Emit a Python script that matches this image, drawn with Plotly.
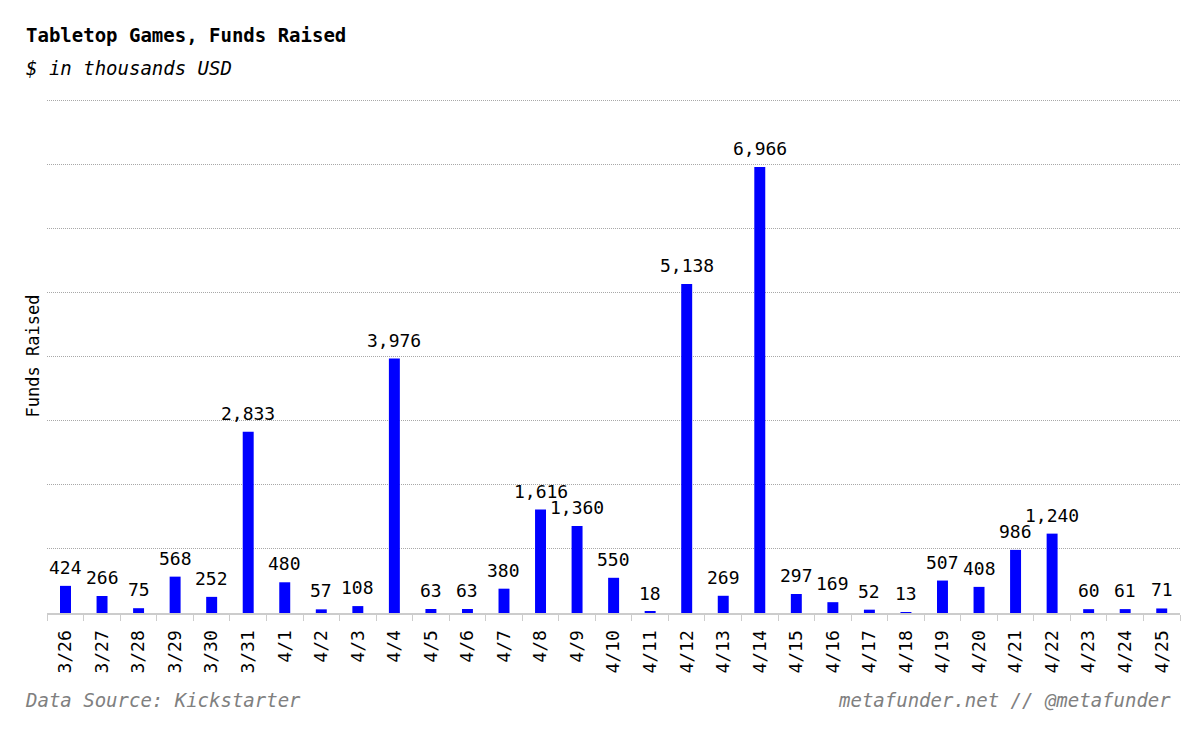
import plotly.graph_objects as go

dates = ["3/26", "3/27", "3/28", "3/29", "3/30", "3/31", "4/1", "4/2", "4/3", "4/4",
         "4/5", "4/6", "4/7", "4/8", "4/9", "4/10", "4/11", "4/12", "4/13", "4/14",
         "4/15", "4/16", "4/17", "4/18", "4/19", "4/20", "4/21", "4/22", "4/23", "4/24", "4/25"]
funds = [424, 266, 75, 568, 252, 2833, 480, 57, 108, 3976,
         63, 63, 380, 1616, 1360, 550, 18, 5138, 269, 6966,
         297, 169, 52, 13, 507, 408, 986, 1240, 60, 61, 71]

MONO = "DejaVu Sans Mono, Liberation Mono, monospace"

fig = go.Figure(go.Bar(
    x=dates, y=funds, width=0.3,
    marker=dict(color="#0000ff", line=dict(width=0)),
    cliponaxis=False,
))

value_labels = [
    dict(x=d, y=v, xref="x", yref="y", text=f"{v:,}", showarrow=False,
         xanchor="center", yanchor="bottom", yshift=6,
         font=dict(family=MONO, size=18, color="black"))
    for d, v in zip(dates, funds)
]

top_margin = 99
fig.update_layout(
    width=1200, height=733, plot_bgcolor="white", paper_bgcolor="white",
    margin=dict(l=47, r=20, t=top_margin, b=120),
    showlegend=False, bargap=0.7,
    font=dict(family=MONO, color="black"),
    xaxis=dict(type="category", tickangle=-90, tickson="boundaries", ticks="outside",
               ticklen=6, tickcolor="#cccccc", tickwidth=1, showline=True,
               linecolor="#cccccc", linewidth=2, showgrid=False,
               ticklabelstandoff=8,
               tickfont=dict(family=MONO, size=18, color="black")),
    yaxis=dict(range=[0, 8030], tick0=0, dtick=1000, showticklabels=False, showgrid=True,
               gridcolor="#a8a8a8", griddash="1px,1px", gridwidth=1, zeroline=False,
               title=dict(text="Funds Raised", standoff=2,
                          font=dict(family=MONO, size=17, color="black"))),
    annotations=value_labels + [
        dict(text="<b>Tabletop Games, Funds Raised</b>", xref="paper", yref="paper",
             x=(24 - 47) / 1133, y=1, xanchor="left", yanchor="top", showarrow=False,
             yshift=top_margin - 35 + 13,
             font=dict(family=MONO, size=19, color="black")),
        dict(text="<i>$ in thousands USD</i>", xref="paper", yref="paper",
             x=(24 - 47) / 1133, y=1, xanchor="left", yanchor="top", showarrow=False,
             yshift=top_margin - 68 + 13,
             font=dict(family=MONO, size=19, color="black")),
        dict(text="<i>Data Source: Kickstarter</i>", xref="paper", yref="paper",
             x=(23 - 47) / 1133, y=0, xanchor="left", yanchor="middle", showarrow=False,
             yshift=-(700 - 613),
             font=dict(family=MONO, size=19, color="#808080")),
        dict(text="<i>metafunder.net // @metafunder</i>", xref="paper", yref="paper",
             x=(1173 - 47) / 1133, y=0, xanchor="right", yanchor="middle", showarrow=False,
             yshift=-(700 - 613),
             font=dict(family=MONO, size=19, color="#808080")),
    ],
)

fig.write_html("out.html")
